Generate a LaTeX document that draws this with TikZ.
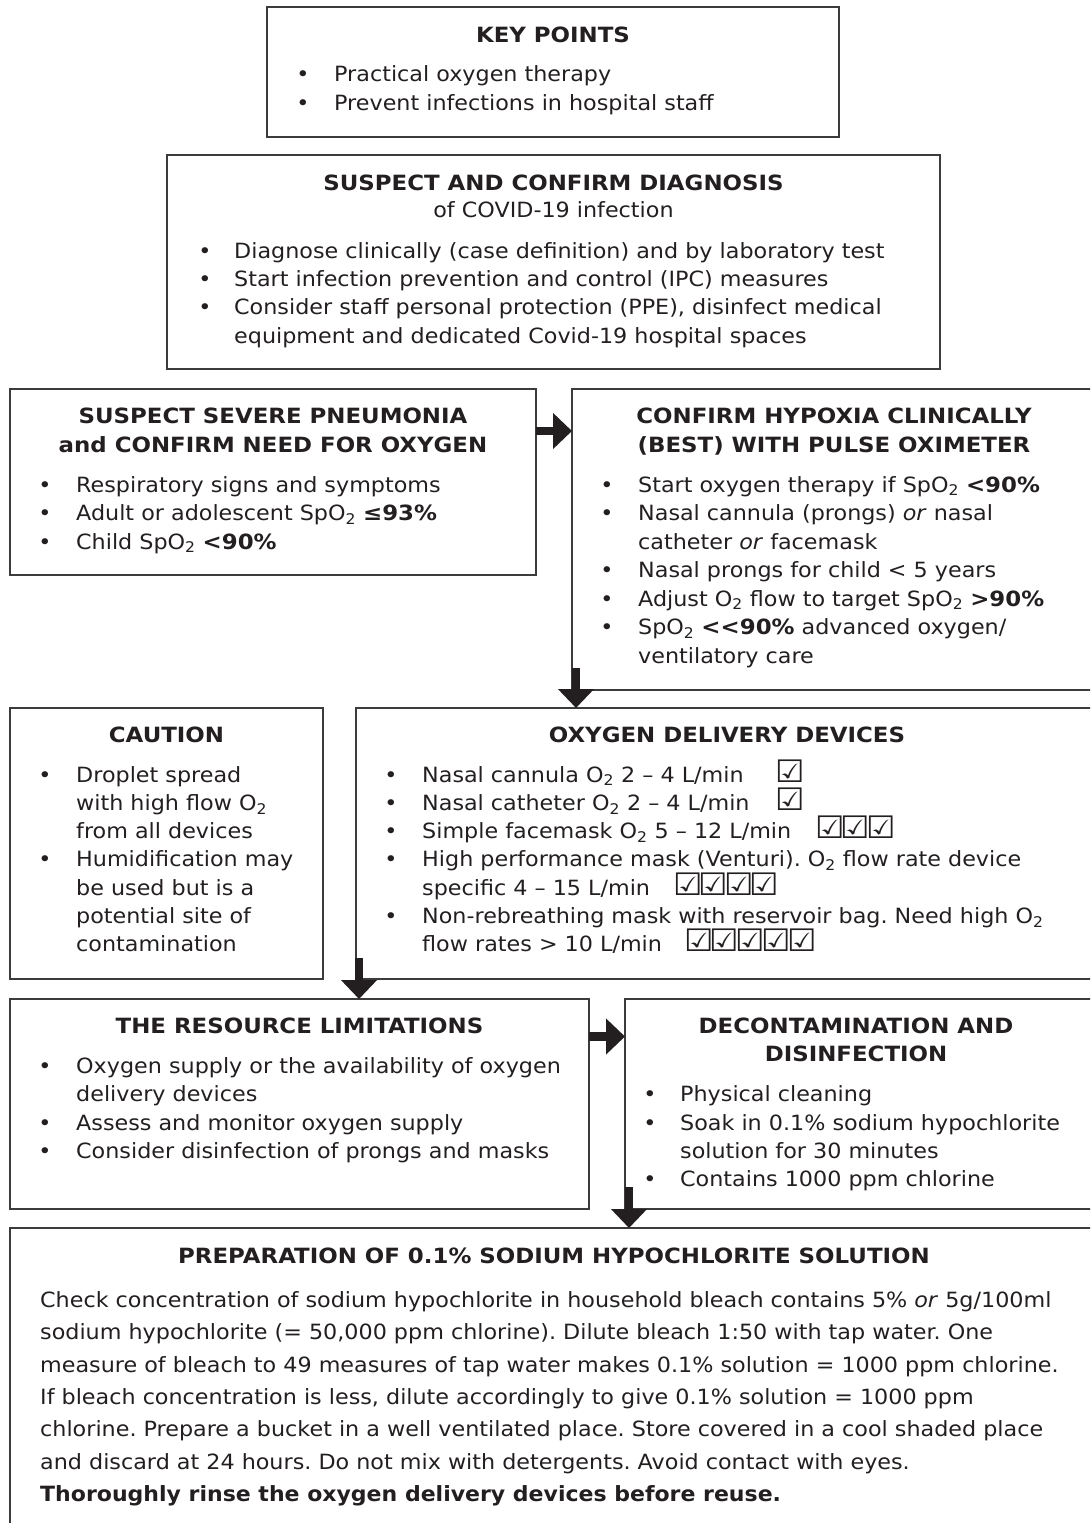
\documentclass[tikz,border=0pt]{standalone}
\usepackage{fontspec}
\setmainfont{DejaVu Sans}[UprightFeatures={FakeStretch=1.06},ItalicFeatures={FakeStretch=1.06},BoldFeatures={FakeStretch=1.09}]
\usetikzlibrary{arrows.meta}
\definecolor{ink}{HTML}{231F20}
\definecolor{edge}{HTML}{3C3C3C}
\newcommand\osub{\textsubscript{2}}
\newcommand\bodyfont{\fontsize{21}{25}\selectfont\frenchspacing}
\tikzset{
 box/.style={draw=edge,line width=1.3pt,anchor=north west,inner sep=0pt,outer sep=0pt},
 txt/.style={anchor=base west,inner sep=0pt,text=ink,font=\bodyfont},
 ttl/.style={anchor=base,inner sep=0pt,text=ink,font=\bodyfont\bfseries},
 bul/.style={anchor=base,inner sep=0pt,text=ink,font=\bodyfont},
 chk/.style={anchor=base west,inner sep=0pt,text=ink,font=\fontsize{31}{31}\selectfont},
 arr/.style={draw=ink,line width=8.5pt,-{Triangle[width=35pt,length=19pt]}}
}
\newcommand\bitem[5]{\node[bul] (#1b) at (#2,#4) {•}; \node[txt] (#1) at (#3,#4) {#5};}
\begin{document}
\begin{tikzpicture}[x=1pt,y=-1pt]
\useasboundingbox (0,0) rectangle (1090,1523);
\clip (0,0) rectangle (1090,1523);
% boxes
\node[box,minimum width=572pt,minimum height=130pt] (b1) at (267,7) {};
\node[box,minimum width=773pt,minimum height=214pt] (b2) at (167,155) {};
\node[box,minimum width=526pt,minimum height=186pt] (b3) at (10,389) {};
\node[box,minimum width=523pt,minimum height=301pt] (b4) at (572,389) {};
\node[box,minimum width=313pt,minimum height=271pt] (b5) at (10,708) {};
\node[box,minimum width=739pt,minimum height=271pt] (b6) at (356,708) {};
\node[box,minimum width=579pt,minimum height=210pt] (b7) at (10,999) {};
\node[box,minimum width=470pt,minimum height=210pt] (b8) at (625,999) {};
\node[box,minimum width=1085pt,minimum height=302pt] (b9) at (10,1228) {};
% box 1
\node[ttl] (t1) at (553,42.5) {KEY POINTS};
\bitem{k1}{303}{334}{81.5}{Practical oxygen therapy}
\bitem{k2}{303}{334}{110}{Prevent infections in hospital staff}
% box 2
\node[ttl] (t2) at (553.5,190.5) {SUSPECT AND CONFIRM DIAGNOSIS};
\node[bul] (t2b) at (553.5,217) {of COVID-19 infection};
\bitem{d1}{205}{234}{258}{Diagnose clinically (case definition) and by laboratory test}
\bitem{d2}{205}{234}{286.4}{Start infection prevention and control (IPC) measures}
\bitem{d3}{205}{234}{314.8}{Consider staff personal protection (PPE), disinfect medical}
\node[txt] (d3c) at (234,343.2) {equipment and dedicated Covid-19 hospital spaces};
% box 3
\node[ttl] (t3) at (273,423.5) {SUSPECT SEVERE PNEUMONIA};
\node[ttl] (t3b) at (273,452) {and CONFIRM NEED FOR OXYGEN};
\bitem{p1}{45}{76}{492}{Respiratory signs and symptoms}
\bitem{p2}{45}{76}{520.5}{Adult or adolescent SpO\osub{} \textbf{≤93\%}}
\bitem{p3}{45}{76}{549}{Child SpO\osub{} \textbf{<90\%}}
% box 4
\node[ttl] (t4) at (834,423.5) {CONFIRM HYPOXIA CLINICALLY};
\node[ttl] (t4b) at (834,452) {(BEST) WITH PULSE OXIMETER};
\bitem{h1}{607}{638}{492}{Start oxygen therapy if SpO\osub{} \textbf{<90\%}}
\bitem{h2}{607}{638}{520.5}{Nasal cannula (prongs) \textit{or} nasal}
\node[txt] (h2c) at (638,549) {catheter \textit{or} facemask};
\bitem{h3}{607}{638}{577.5}{Nasal prongs for child < 5 years}
\bitem{h4}{607}{638}{606}{Adjust O\osub{} flow to target SpO\osub{} \textbf{>90\%}}
\bitem{h5}{607}{638}{634.5}{SpO\osub{} \textbf{<{}<90\%} advanced oxygen/}
\node[txt] (h5c) at (638,663) {ventilatory care};
% box 5
\node[ttl] (t5) at (166.5,742) {CAUTION};
\bitem{c1}{45}{76}{782}{Droplet spread}
\node[txt] (c1c) at (76,810.3) {with high flow O\osub};
\node[txt] (c1d) at (76,838.6) {from all devices};
\bitem{c2}{45}{76}{866.9}{Humidification may}
\node[txt] (c2c) at (76,895.2) {be used but is a};
\node[txt] (c2d) at (76,923.5) {potential site of};
\node[txt] (c2e) at (76,951.8) {contamination};
% box 6
\node[ttl] (t6) at (727,742) {OXYGEN DELIVERY DEVICES};
\bitem{o1}{391}{422}{782}{Nasal cannula O\osub{} 2 – 4 L/min}
\bitem{o2}{391}{422}{810.3}{Nasal catheter O\osub{} 2 – 4 L/min}
\bitem{o3}{391}{422}{838.6}{Simple facemask O\osub{} 5 – 12 L/min}
\bitem{o4}{391}{422}{866.9}{High performance mask (Venturi). O\osub{} flow rate device}
\node[txt] (o4c) at (422,895.2) {specific 4 – 15 L/min};
\bitem{o5}{391}{422}{923.5}{Non-rebreathing mask with reservoir bag. Need high O\osub}
\node[txt] (o5c) at (422,951.8) {flow rates > 10 L/min};
\node[chk] (k1a) at (775,782) {☑};
\node[chk] (k2a) at (775,810.3) {☑};
\foreach \i in {0,1,2} \node[chk] (k3-\i) at (815+25.7*\i,838.6) {☑};
\foreach \i in {0,1,2,3} \node[chk] (k4-\i) at (673+25.5*\i,895.2) {☑};
\foreach \i in {0,1,2,3,4} \node[chk] (k5-\i) at (684+25.7*\i,951.8) {☑};
% box 7
\node[ttl] (t7) at (299.5,1033) {THE RESOURCE LIMITATIONS};
\bitem{r1}{45}{76}{1073.5}{Oxygen supply or the availability of oxygen}
\node[txt] (r1c) at (76,1101.8) {delivery devices};
\bitem{r2}{45}{76}{1130.1}{Assess and monitor oxygen supply}
\bitem{r3}{45}{76}{1158.4}{Consider disinfection of prongs and masks}
% box 8
\node[ttl] (t8) at (856,1033) {DECONTAMINATION AND};
\node[ttl] (t8b) at (856,1061.5) {DISINFECTION};
\bitem{s1}{650}{680}{1101.8}{Physical cleaning}
\bitem{s2}{650}{680}{1130.1}{Soak in 0.1\% sodium hypochlorite}
\node[txt] (s2c) at (680,1158.4) {solution for 30 minutes};
\bitem{s3}{650}{680}{1186.7}{Contains 1000 ppm chlorine}
% box 9
\node[ttl] (t9) at (554,1263) {PREPARATION OF 0.1\% SODIUM HYPOCHLORITE SOLUTION};
\node[txt] (n1) at (40,1307.3) {Check concentration of sodium hypochlorite in household bleach contains 5\% \textit{or} 5g/100ml};
\node[txt] (n2) at (40,1339.7) {sodium hypochlorite (= 50,000 ppm chlorine). Dilute bleach 1:50 with tap water. One};
\node[txt] (n3) at (40,1372.1) {measure of bleach to 49 measures of tap water makes 0.1\% solution = 1000 ppm chlorine.};
\node[txt] (n4) at (40,1404.5) {If bleach concentration is less, dilute accordingly to give 0.1\% solution = 1000 ppm};
\node[txt] (n5) at (40,1436.9) {chlorine. Prepare a bucket in a well ventilated place. Store covered in a cool shaded place};
\node[txt] (n6) at (40,1469.3) {and discard at 24 hours. Do not mix with detergents. Avoid contact with eyes.};
\node[txt,font=\bodyfont\bfseries] (n7) at (40,1501.7) {\scalebox{0.962}[1]{Thoroughly rinse the oxygen delivery devices before reuse.}};
% arrows
\coordinate (a1) at (536,431);
\draw[arr] (a1) -- (a1 -| b4.west);
\coordinate (a2) at (576,668);
\draw[arr] (a2) -- (a2 |- b6.north);
\coordinate (a3) at (359,958);
\draw[arr] (a3) -- (a3 |- b7.north);
\coordinate (a4) at (589,1036.5);
\draw[arr] (a4) -- (a4 -| b8.west);
\coordinate (a5) at (629,1187);
\draw[arr] (a5) -- (a5 |- b9.north);
\end{tikzpicture}
\end{document}
